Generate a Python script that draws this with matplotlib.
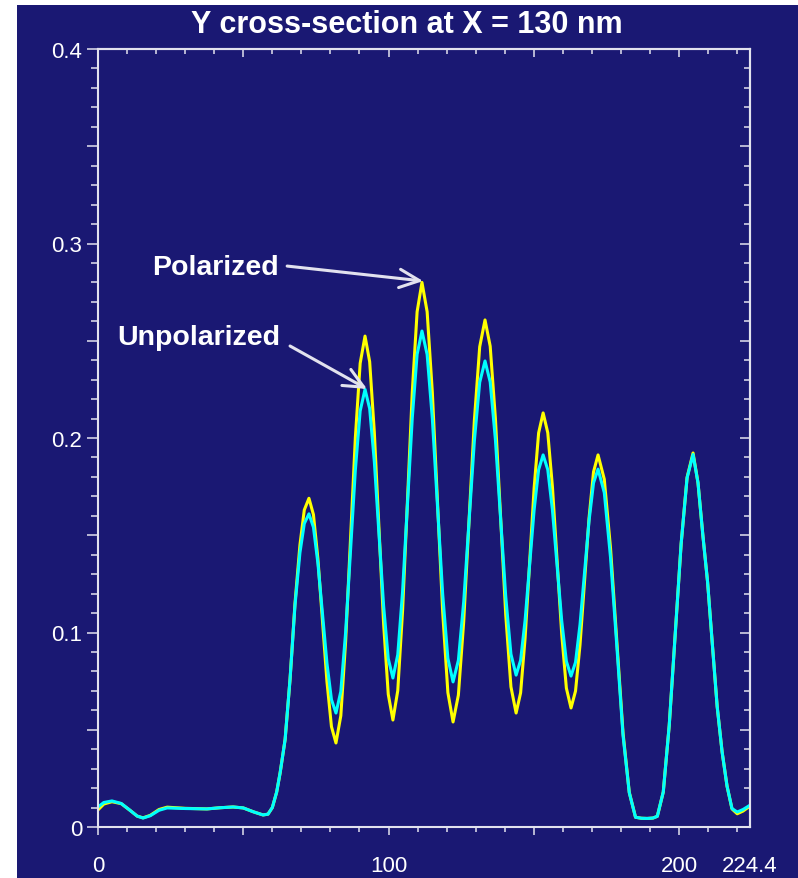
"""
Y 方向截面强度曲线（X = 130 nm）
偏振 / 非偏振两条曲线对比
"""
import matplotlib
matplotlib.use('Agg')
import matplotlib.pyplot as plt
from matplotlib.patches import Rectangle
from matplotlib.ticker import MultipleLocator, NullFormatter

# ---- 数据 ----
y_pos = [0, 2, 4.8, 8, 11, 13.5, 15.5, 18, 21, 23.8, 30, 37.5, 42, 46.5, 50, 53.5,
         56.8, 58.5, 60, 61.5, 62.7, 64.4, 66.1, 67.8, 69.5, 71, 72.6,
         74.15, 75.7, 77.25, 78.8, 80.35, 81.9,
         83.57, 85.23, 86.9, 88.57, 90.23, 91.9,
         93.5, 95.1, 96.7, 98.3, 99.9, 101.5,
         103.17, 104.83, 106.5, 108.17, 109.83, 111.5,
         113.28, 115.07, 116.85, 118.63, 120.42, 122.2,
         124.03, 125.87, 127.7, 129.53, 131.37, 133.2,
         134.98, 136.77, 138.55, 140.33, 142.12, 143.9,
         145.45, 147.0, 148.55, 150.1, 151.65, 153.2,
         154.8, 156.4, 158.0, 159.6, 161.2, 162.8,
         164.35, 165.9, 167.45, 169.0, 170.55, 172.1,
         174.25, 176.4, 178.55, 180.7, 182.85, 185.0,
         187, 189, 191, 192.5,
         194.55, 196.6, 198.65, 200.7, 202.75, 204.8,
         206.5, 208.2, 209.8, 211.3, 213.1, 214.8, 216.5, 218.2, 220.0, 222.0, 224.4]

polarized = [0.0088, 0.0118, 0.0130, 0.0120, 0.0086, 0.0056, 0.0047, 0.0060, 0.0090, 0.0102,
             0.0096, 0.0093, 0.0099, 0.0103, 0.0098, 0.0078, 0.0062, 0.0066, 0.0100, 0.0180,
             0.0280, 0.0450, 0.0760, 0.1150, 0.1450, 0.1630, 0.1690,
             0.1606, 0.1376, 0.1061, 0.0747, 0.0516, 0.0432,
             0.0572, 0.0955, 0.1478, 0.2001, 0.2384, 0.2524,
             0.2392, 0.2031, 0.1537, 0.1044, 0.0682, 0.0550,
             0.0701, 0.1113, 0.1675, 0.2238, 0.2649, 0.2800,
             0.2649, 0.2235, 0.1670, 0.1105, 0.0691, 0.0540,
             0.0678, 0.1057, 0.1574, 0.2090, 0.2469, 0.2607,
             0.2472, 0.2102, 0.1597, 0.1091, 0.0721, 0.0586,
             0.0690, 0.0972, 0.1358, 0.1743, 0.2026, 0.2129,
             0.2027, 0.1750, 0.1371, 0.0991, 0.0714, 0.0612,
             0.0699, 0.0937, 0.1263, 0.1588, 0.1826, 0.1913,
             0.1788, 0.1433, 0.0958, 0.0483, 0.0178, 0.0050,
             0.0045, 0.0044, 0.0046, 0.0055,
             0.0180, 0.0522, 0.0989, 0.1456, 0.1798, 0.1923,
             0.1770, 0.1496, 0.1260, 0.0967, 0.0620, 0.0386, 0.0210, 0.0093, 0.0068, 0.0082, 0.0108]

unpolarized = [0.0103, 0.0126, 0.0134, 0.0121, 0.0086, 0.0056, 0.0046, 0.0058, 0.0086, 0.0098,
               0.0095, 0.0093, 0.0099, 0.0103, 0.0098, 0.0078, 0.0062, 0.0066, 0.0100, 0.0180,
               0.0280, 0.0450, 0.0760, 0.1140, 0.1410, 0.1560, 0.1610,
               0.1541, 0.1354, 0.1098, 0.0842, 0.0655, 0.0586,
               0.0697, 0.1002, 0.1418, 0.1834, 0.2139, 0.2250,
               0.2151, 0.1879, 0.1508, 0.1137, 0.0865, 0.0766,
               0.0886, 0.1212, 0.1658, 0.2104, 0.2430, 0.2550,
               0.2429, 0.2099, 0.1648, 0.1197, 0.0867, 0.0746,
               0.0857, 0.1159, 0.1571, 0.1984, 0.2286, 0.2396,
               0.2288, 0.1992, 0.1589, 0.1185, 0.0889, 0.0781,
               0.0857, 0.1064, 0.1347, 0.1630, 0.1837, 0.1913,
               0.1837, 0.1630, 0.1345, 0.1060, 0.0852, 0.0776,
               0.0847, 0.1042, 0.1308, 0.1574, 0.1769, 0.1840,
               0.1719, 0.1385, 0.0933, 0.0471, 0.0176, 0.0050,
               0.0045, 0.0044, 0.0046, 0.0055,
               0.0180, 0.0522, 0.0989, 0.1456, 0.1795, 0.1915,
               0.1770, 0.1496, 0.1260, 0.0967, 0.0620, 0.0386, 0.0210, 0.0095, 0.0077, 0.0090, 0.0112]

x_ticks = [0, 50, 100, 150, 200, 224.4]
x_tick_labels = ['0', '', '100', '', '200', '224.4']
y_ticks = [0, 0.05, 0.1, 0.15, 0.2, 0.25, 0.3, 0.35, 0.4]
y_tick_labels = ['0', '', '0.1', '', '0.2', '', '0.3', '', '0.4']

# 标注：文字位置 + 箭头起点/终点
pol_label = (40.3, 0.2843)
pol_arrow = ((65.1, 0.2884), (111.9, 0.2807))
unpol_label = (34.6, 0.2483)
unpol_arrow = ((66.1, 0.2473), (92.6, 0.2252))

BG = '#1a1873'
FG = '#e2e2ee'

plt.rcParams['font.family'] = ['Liberation Sans', 'DejaVu Sans']

fig = plt.figure(figsize=(7.98, 8.79), dpi=100, facecolor='white')
# 深蓝底色（左、上留一条白边）
fig.patches.append(Rectangle((17 / 798, 0), 1, 1 - 6 / 879, transform=fig.transFigure,
                             facecolor=BG, edgecolor='none', zorder=-10))

ax = fig.add_axes([98 / 798, 1 - 828 / 879, (750 - 98) / 798, (828 - 50) / 879])
ax.set_facecolor(BG)

ax.plot(y_pos, polarized, color='#ffff00', linewidth=2.2, solid_joinstyle='round')
ax.plot(y_pos, unpolarized, color='#00ffff', linewidth=2.2, solid_joinstyle='round')

ax.set_xlim(0, 224.4)
ax.set_ylim(0, 0.4)

for s in ax.spines.values():
    s.set_color(FG)
    s.set_linewidth(1.5)

# 左/下：刻度朝外
ax.set_xticks(x_ticks, labels=x_tick_labels)
ax.xaxis.set_minor_locator(MultipleLocator(10))
ax.set_yticks(y_ticks, labels=y_tick_labels)
ax.yaxis.set_minor_locator(MultipleLocator(0.01))
ax.tick_params(axis='x', which='major', direction='out', length=6, width=1.1,
               color=FG, labelcolor='white', labelsize=16, pad=14.5)
ax.tick_params(axis='x', which='minor', direction='out', length=3.8, width=1.1, color=FG)
ax.tick_params(axis='y', which='major', direction='out', length=8, width=1.1,
               color=FG, labelcolor='white', labelsize=16, pad=3.5)
ax.tick_params(axis='y', which='minor', direction='out', length=4.8, width=1.1, color=FG)
ax.xaxis.get_major_ticks()[-1].tick1line.set_visible(False)

# 上/右：刻度朝内，不带标签
top = ax.secondary_xaxis('top')
top.set_xticks(x_ticks[:-1])
top.xaxis.set_minor_locator(MultipleLocator(10))
top.xaxis.set_major_formatter(NullFormatter())
top.tick_params(which='major', direction='in', length=5.5, width=1.1, color=FG)
top.tick_params(which='minor', direction='in', length=3.8, width=1.1, color=FG)
right = ax.secondary_yaxis('right')
right.set_yticks(y_ticks)
right.yaxis.set_minor_locator(MultipleLocator(0.01))
right.yaxis.set_major_formatter(NullFormatter())
right.tick_params(which='major', direction='in', length=7.5, width=1.1, color=FG)
right.tick_params(which='minor', direction='in', length=4.5, width=1.1, color=FG)
for sec in (top, right):
    for s in sec.spines.values():
        s.set_color(FG)
        s.set_linewidth(1.5)

fig.text(406.5 / 798, 1 - 33 / 879, 'Y cross-section at X = 130 nm', color='white',
         fontsize=22, fontweight='bold', ha='center', va='baseline')

arrow_kw = dict(arrowstyle='->,head_length=1.2,head_width=0.55', color=FG, lw=2.2,
                shrinkA=0, shrinkB=0, mutation_scale=12)
ax.text(*pol_label, 'Polarized', color='white', fontsize=20.5, fontweight='bold',
        ha='center', va='baseline')
ax.annotate('', xy=pol_arrow[1], xytext=pol_arrow[0], arrowprops=arrow_kw)
ax.text(*unpol_label, 'Unpolarized', color='white', fontsize=20.5, fontweight='bold',
        ha='center', va='baseline')
ax.annotate('', xy=unpol_arrow[1], xytext=unpol_arrow[0], arrowprops=arrow_kw)

fig.savefig('out.png', dpi=100, facecolor='white')
